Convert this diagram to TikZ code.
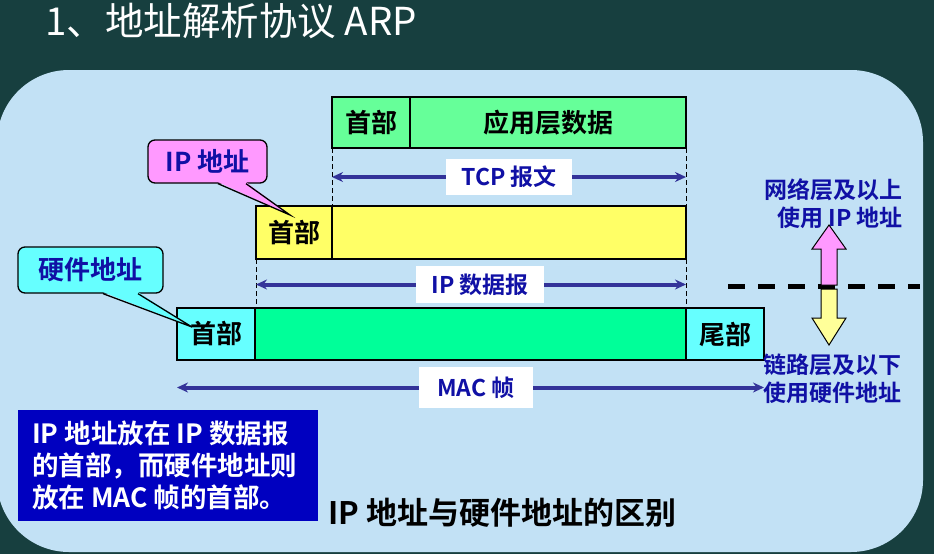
\documentclass[tikz,border=0pt]{standalone}
\usepackage{fontspec}
\setmainfont{Noto Sans CJK SC}[BoldFont={Noto Sans CJK SC Bold}]
\usetikzlibrary{arrows.meta,calc}
\definecolor{bgdark}{RGB}{23,63,63}
\definecolor{panel}{RGB}{194,225,245}
\definecolor{tcpgreen}{RGB}{102,255,153}
\definecolor{ipyellow}{RGB}{255,255,102}
\definecolor{macgreen}{RGB}{0,255,153}
\definecolor{cyanbox}{RGB}{102,255,255}
\definecolor{pinkc}{RGB}{255,153,255}
\definecolor{lyellow}{RGB}{255,255,153}
\definecolor{arrowblue}{RGB}{51,51,153}
\definecolor{labelblue}{RGB}{16,16,165}
\definecolor{noteblue}{RGB}{0,0,192}
\tikzset{
  cell/.style={draw=black, line width=2, inner sep=0, outer sep=0, text=black,
    font=\fontsize{26}{30}\selectfont\bfseries},
  guide/.style={draw=black, line width=0.9, dash pattern=on 5 off 3},
  dimlabel/.style={fill=white, inner sep=0, text=labelblue,
    font=\fontsize{23}{27}\selectfont\bfseries},
  dimarrow/.style={draw=arrowblue, line width=4, -{Stealth[length=11pt,width=10pt]}},
  callbox/.style={draw=black, line width=1.3, rounded corners=7, inner sep=0,
    text=labelblue, font=\fontsize{26}{30}\selectfont\bfseries},
  pointer/.style={draw=black, line width=1.3},
  layertext/.style={text=labelblue, inner sep=0, font=\fontsize{23}{28}\selectfont\bfseries},
  bigarrow/.style={draw=black, line width=1},
}
\begin{document}
\begin{tikzpicture}[x=1pt,y=-1pt]
\fill[bgdark] (0,0) rectangle (934,554);
\useasboundingbox (0,0) rectangle (934,554);
\fill[panel, rounded corners=72] (-3,70) rectangle (923,552);

\node[anchor=base west, text=white, inner sep=0, font=\fontsize{38.5}{44}\selectfont] (title) at (45,35) {1、地址解析协议 ARP};

% TCP segment
\node[cell, fill=tcpgreen, minimum width=78, minimum height=51] (tcph) at (371,122.5) {首部};
\node[cell, fill=tcpgreen, minimum width=276, minimum height=51] (tcpd) at (548,122.5) {应用层数据};
% IP datagram
\node[cell, fill=ipyellow, minimum width=76, minimum height=53] (iph) at (294,232.5) {首部};
\node[cell, fill=ipyellow, minimum width=354, minimum height=53] (ipd) at (509,232.5) {};
% MAC frame
\node[cell, fill=cyanbox, minimum width=78, minimum height=52] (mach) at (216,334) {首部};
\node[cell, fill=macgreen, minimum width=431, minimum height=52] (macd) at (470.5,334) {};
\node[cell, fill=cyanbox, minimum width=78, minimum height=52] (mact) at (725,334) {尾部};

% guides
\draw[guide] (tcph.south west) -- (ipd.north west);
\draw[guide] (tcpd.south east) -- (ipd.north east);
\draw[guide] (iph.south west) -- (iph.south west |- mach.north);
\draw[guide] (ipd.south east) -- (macd.north east);

% dimension labels
\node[dimlabel, minimum width=126, minimum height=36] (tcplab) at (509,177) {TCP 报文};
\draw[dimarrow] (tcplab.west) -- (tcplab.west -| tcph.south west);
\draw[dimarrow] (tcplab.east) -- (tcplab.east -| tcpd.south east);

\node[dimlabel, minimum width=128, minimum height=37] (iplab) at (480,284.5) {IP 数据报};
\draw[dimarrow] (iplab.west) -- (iplab.west -| iph.south west);
\draw[dimarrow] (iplab.east) -- (iplab.east -| ipd.south east);

\node[dimlabel, minimum width=114, minimum height=41] (maclab) at (476,387.5) {MAC 帧};
\draw[dimarrow] (maclab.west) -- (maclab.west -| mach.south west);
\draw[dimarrow] (maclab.east) -- (maclab.east -| mact.south east);

% callouts
\node[callbox, fill=pinkc, minimum width=119, minimum height=43] (ipcall) at (207.5,161.5) {IP 地址};
\coordinate (iptip) at (290,215);
\fill[pinkc] ($(ipcall.south)+(10.5,-1.6)$) -- (iptip) -- ($(ipcall.south)+(38.5,-1.6)$) -- cycle;
\draw[pointer] ($(ipcall.south)+(10.5,0)$) -- (iptip) -- ($(ipcall.south)+(38.5,0)$);

\node[callbox, fill=cyanbox, minimum width=145, minimum height=46] (hwcall) at (90.5,270) {硬件地址};
\coordinate (hwtip) at (192,327);
\fill[cyanbox] ($(hwcall.south)+(12.5,-1.6)$) -- (hwtip) -- ($(hwcall.south)+(47.5,-1.6)$) -- cycle;
\draw[pointer] ($(hwcall.south)+(12.5,0)$) -- (hwtip) -- ($(hwcall.south)+(47.5,0)$);

% layer divider
\coordinate (divl) at (728,286);
\coordinate (divr) at (920,286);
\draw[line width=5, dash pattern=on 17 off 13] (divl) -- (divr);

\draw[bigarrow, fill=pinkc] (821,285) -- (821,249) -- (812,249) -- (829,225) -- (846,249) -- (837,249) -- (837,285) -- cycle;
\draw[bigarrow, fill=lyellow] (821,289) -- (821,318) -- (812,318) -- (829,345) -- (846,318) -- (837,318) -- (837,289) -- cycle;

\node[layertext, anchor=east, align=right] (upper) at (903,203.5) {网络层及以上\\使用 IP 地址};
\node[layertext, anchor=west, align=left] (lower) at (763,379) {链路层及以下\\使用硬件地址};

% note box
\node[fill=noteblue, minimum width=300, minimum height=111, anchor=north west, inner sep=0] (note) at (18,410) {};
\node[anchor=west, align=left, text=white, inner sep=0, font=\fontsize{26.5}{32}\selectfont\bfseries] (notetxt) at ($(note.west)+(14,0)$) {IP 地址放在 IP 数据报\\的首部，而硬件地址则\\放在 MAC 帧的首部。};

\node[anchor=west, inner sep=0, text=black, font=\fontsize{31}{36}\selectfont\bfseries] (caption) at (328,513) {IP 地址与硬件地址的区别};
\end{tikzpicture}
\end{document}
